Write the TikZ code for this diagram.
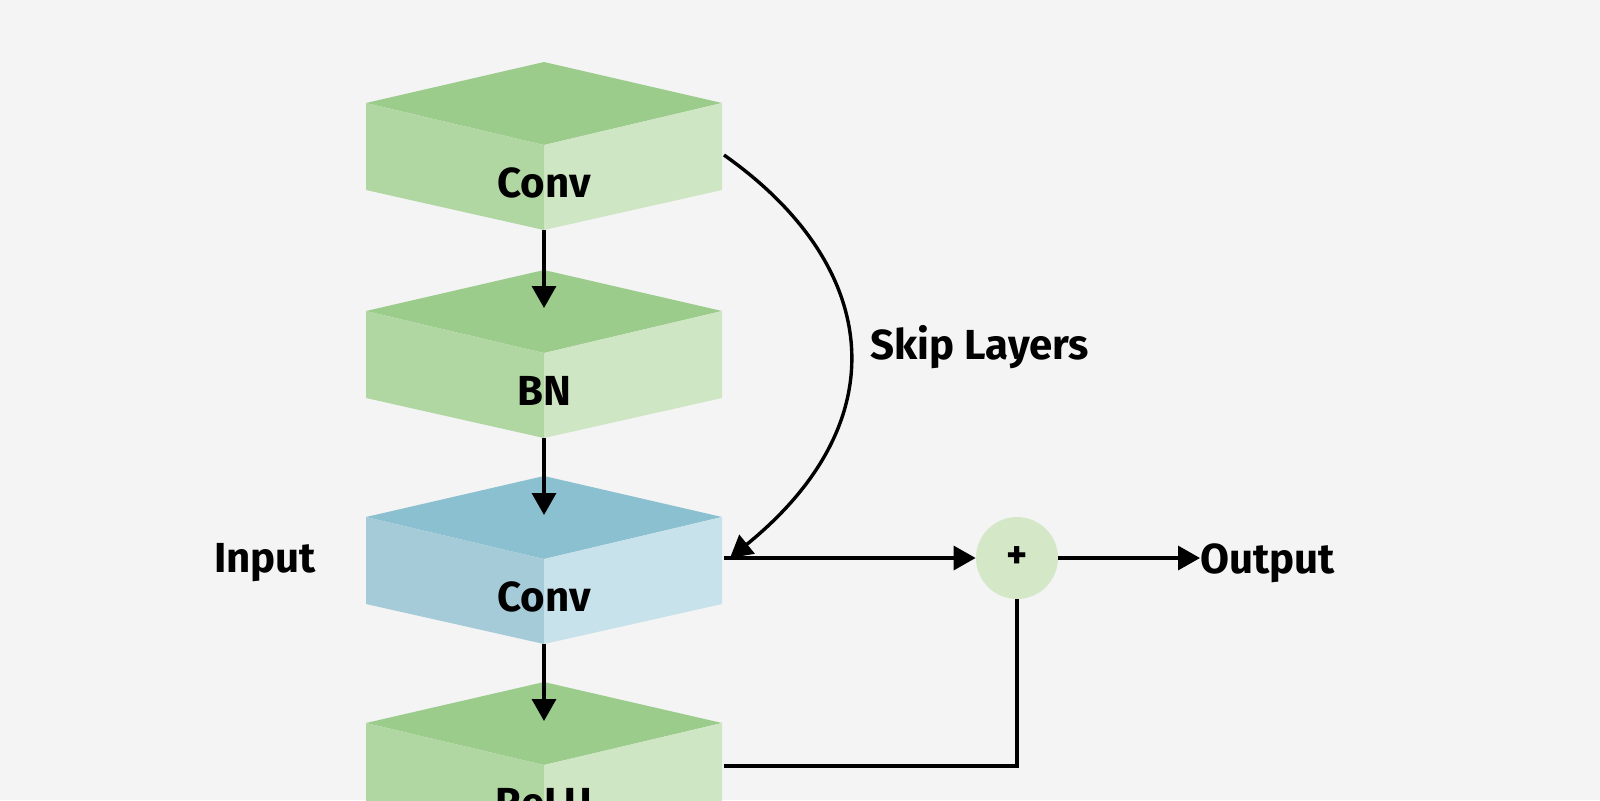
\documentclass[tikz,border=0pt]{standalone}
\usepackage{fontspec}
\setmainfont{Fira Sans}
\usetikzlibrary{arrows.meta}
\definecolor{bg}{HTML}{F4F4F4}
\definecolor{gtop}{HTML}{9CCC8C}
\definecolor{gleft}{HTML}{B0D7A1}
\definecolor{gright}{HTML}{CEE6C3}
\definecolor{btop}{HTML}{8BC0D0}
\definecolor{bleft}{HTML}{A5CBD9}
\definecolor{bright}{HTML}{C7E2EA}
\definecolor{plus}{HTML}{D4E8C8}
\tikzset{
  x=0.5pt, y=-0.5pt,
  lbl/.style={font=\bfseries\fontsize{21}{25}\selectfont, inner sep=0pt},
  arr/.style={line width=1.7pt, -{Triangle[length=11pt,width=12pt]}},
  ln/.style={line width=1.7pt},
  pics/cube/.style n args={4}{code={
    \fill[#1] (0,0) -- (-178,41) -- (0,83) -- (178,41) -- cycle;
    \fill[#2] (-178,41) -- (0,83) -- (0,168) -- (-178,128) -- cycle;
    \fill[#3] (0,83) -- (178,41) -- (178,128) -- (0,168) -- cycle;
    \node[lbl] (-t) at (0,121) {#4};
    \coordinate (-top) at (0,0);
    \coordinate (-bot) at (0,168);
  }}
}
\begin{document}
\begin{tikzpicture}
\useasboundingbox (0,0) rectangle (1600,800);
\fill[bg] (0,0) rectangle (1600,800);
\clip (0,0) rectangle (1600,800);
\pic (c1) at (544,62) {cube={gtop}{gleft}{gright}{Conv}};
\pic (c2) at (544,270) {cube={gtop}{gleft}{gright}{BN}};
\pic (c3) at (544,476) {cube={btop}{bleft}{bright}{Conv}};
\pic (c4) at (544,682) {cube={gtop}{gleft}{gright}{ReLU}};
\coordinate (a1) at (544,308);
\coordinate (a2) at (544,515);
\coordinate (a3) at (544,721);
\draw[arr] (c1-bot) -- (a1);
\draw[arr] (c2-bot) -- (a2);
\draw[arr] (c3-bot) -- (a3);
\coordinate (s1) at (724,155);
\coordinate (s2) at (730,558);
\draw[arr] (s1) .. controls (880,265) and (900,420) .. (s2);
\node[lbl, anchor=west] (skip) at (870,347) {Skip Layers};
\node[circle, fill=plus, minimum size=41pt, inner sep=0pt] (p) at (1017,558) {};
\node[font=\bfseries\fontsize{20}{22}\selectfont] at (p) {+};
\coordinate (o3) at (724,558);
\draw[arr] (o3) -- (p.west);
\node[lbl, anchor=west] (out) at (1200,563) {Output};
\draw[arr] (p.east) -- (p.east -| out.west);
\node[lbl] (in) at (265,563) {Input};
\coordinate (r) at (724,766);
\draw[ln] (r) -| (p.south);
\end{tikzpicture}
\end{document}
